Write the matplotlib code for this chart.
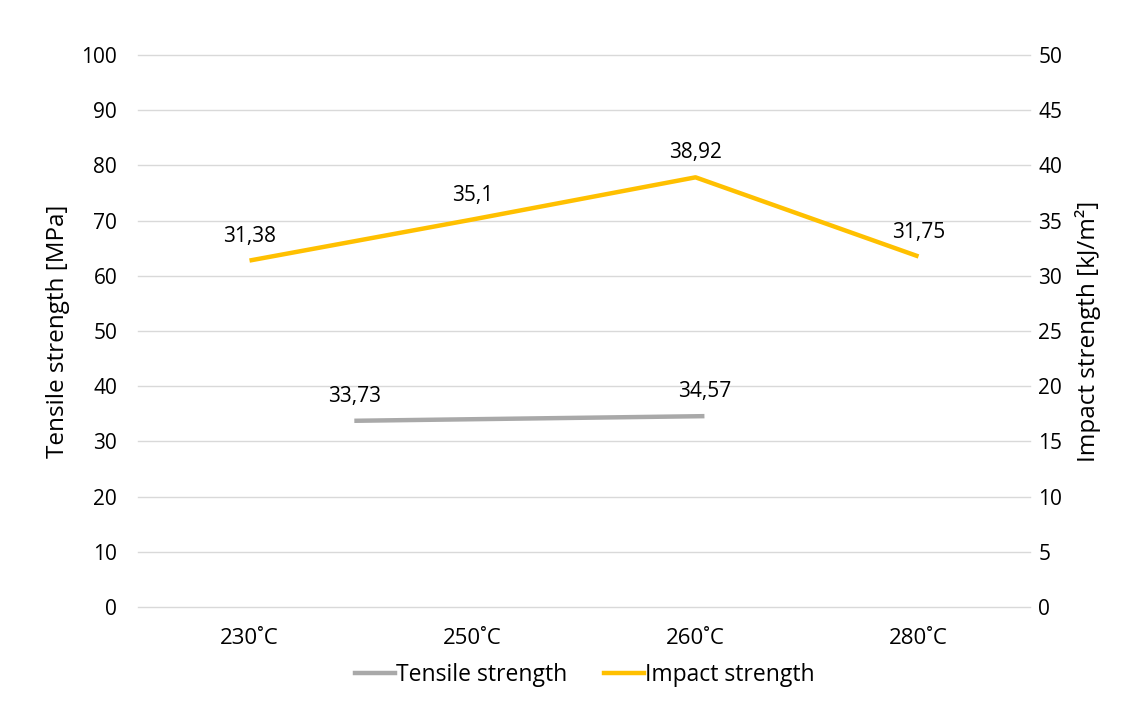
import matplotlib
matplotlib.use("Agg")
import matplotlib.pyplot as plt
from matplotlib.lines import Line2D

CATEGORIES = ["230°C", "250°C", "260°C", "280°C"]
IMPACT = [31.38, 35.1, 38.92, 31.75]
# tensile series sits between category slots in the source chart
TENSILE_X = [0.47, 2.04]
TENSILE = [33.73, 34.57]

YELLOW = "#FFC000"
GRAY = "#A9A9A9"

plt.rcParams["font.family"] = ["Open Sans", "DejaVu Sans"]


def fmt(v):
    return f"{v:g}".replace(".", ",")


def main():
    fig = plt.figure(figsize=(11.35, 7.2), dpi=100)
    ax = fig.add_axes([0.1216, 0.157, 0.7859, 0.7666])
    ax2 = ax.twinx()

    ax.set_xlim(-0.5, 3.5)
    ax.set_ylim(0, 100)
    ax2.set_ylim(0, 50)
    ax.set_yticks(range(0, 101, 10))
    ax2.set_yticks(range(0, 51, 5))
    ax.set_xticks(range(len(CATEGORIES)))
    ax.set_xticklabels([c.replace("°", "˚") for c in CATEGORIES])

    ax.grid(axis="y", color="#d9d9d9", linewidth=1)
    for gl in ax.get_ygridlines():
        gl.set_clip_on(False)
    ax.set_axisbelow(True)
    for a in (ax, ax2):
        for s in a.spines.values():
            s.set_visible(False)
    ax.tick_params(axis="y", length=0, pad=15, labelsize=15)
    ax.tick_params(axis="x", length=0, pad=15, labelsize=16)
    ax2.tick_params(axis="y", length=0, pad=6, labelsize=15)

    ax.plot(TENSILE_X, TENSILE, color=GRAY, linewidth=3.2,
            solid_capstyle="butt")
    ax2.plot(range(len(IMPACT)), IMPACT, color=YELLOW, linewidth=3.2,
             solid_capstyle="butt")

    for x, v in zip(TENSILE_X, TENSILE):
        ax.annotate(fmt(v), (x, v), xytext=(0, 10), textcoords="offset points",
                    ha="center", va="bottom", fontsize=15)
    for x, v in enumerate(IMPACT):
        ax2.annotate(fmt(v), (x, v), xytext=(0, 10), textcoords="offset points",
                     ha="center", va="bottom", fontsize=15)

    ax.set_ylabel("Tensile strength [MPa]", fontsize=17.5, labelpad=8)
    ax2.set_ylabel("Impact strength [kJ/m²]", fontsize=17.5, labelpad=9)

    handles = [Line2D([], [], color=GRAY, linewidth=3.2),
               Line2D([], [], color=YELLOW, linewidth=3.2)]
    fig.legend(handles, ["Tensile strength", "Impact strength"],
               loc="center", bbox_to_anchor=(0.515, 0.063), ncol=2,
               frameon=False, fontsize=16.5, handlelength=1.75,
               handletextpad=0.05, columnspacing=1.6)

    fig.savefig("out.png", dpi=100, facecolor="white")
    plt.close(fig)


if __name__ == "__main__":
    main()
